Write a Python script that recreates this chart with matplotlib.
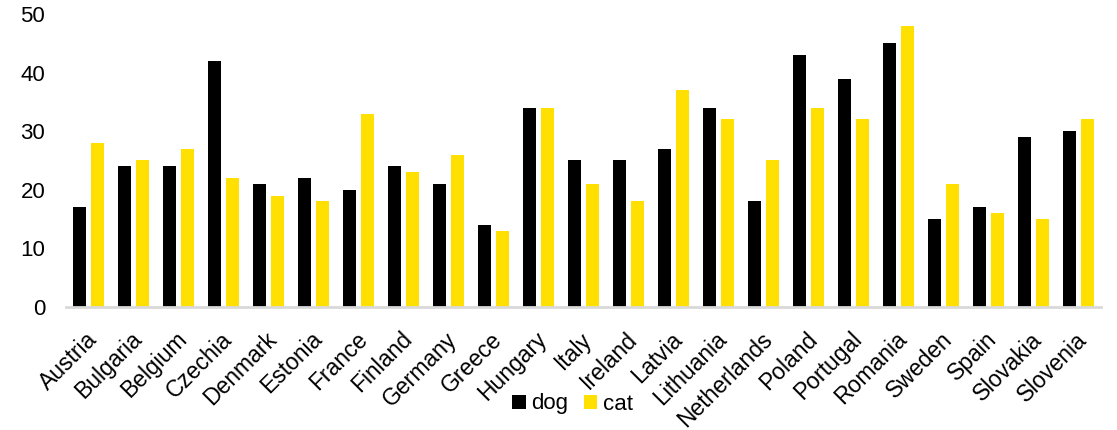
import matplotlib
matplotlib.use("Agg")
import matplotlib.pyplot as plt
from matplotlib.transforms import ScaledTranslation
import numpy as np

countries = ["Austria", "Bulgaria", "Belgium", "Czechia", "Denmark", "Estonia", "France",
             "Finland", "Germany", "Greece", "Hungary", "Italy", "Ireland", "Latvia",
             "Lithuania", "Netherlands", "Poland", "Portugal", "Romania", "Sweden",
             "Spain", "Slovakia", "Slovenia"]
dog = [17, 24, 24, 42, 21, 22, 20, 24, 21, 14, 34, 25, 25, 27, 34, 18, 43, 39, 45, 15, 17, 29, 30]
cat = [28, 25, 27, 22, 19, 18, 33, 23, 26, 13, 34, 21, 18, 37, 32, 25, 34, 32, 48, 21, 16, 15, 32]
yticks = [0, 10, 20, 30, 40, 50]

plt.rcParams['font.family'] = ['Liberation Sans', 'DejaVu Sans']

W, H = 1117, 430
fig = plt.figure(figsize=(W / 100, H / 100), dpi=100)
ax = fig.add_axes([66 / W, 123.3 / H, (1101 - 66) / W, (415.8 - 123.3) / H])

x = np.arange(len(countries))
w = 0.30
ax.bar(x - 0.195, dog, width=w, color='#000000', label='dog')
ax.bar(x + 0.195, cat, width=w, color='#FFE000', label='cat')

ax.set_xlim(-0.5, len(countries) - 0.5)
ax.set_ylim(0, 50)
ax.set_yticks(yticks)
ax.set_yticklabels([str(v) for v in yticks], fontsize=16)
ax.tick_params(axis='y', length=0, pad=15)
ax.set_xticks(x)
ax.set_xticklabels(countries, fontsize=16.5, rotation=45, ha='right', va='center',
                   rotation_mode='anchor')
ax.tick_params(axis='x', length=0, pad=21)
offset = ScaledTranslation(5 / 100, 0, fig.dpi_scale_trans)
for lab in ax.get_xticklabels():
    lab.set_transform(lab.get_transform() + offset)

for s in ['top', 'right', 'left']:
    ax.spines[s].set_visible(False)
ax.spines['bottom'].set_color('#D9D9D9')
ax.spines['bottom'].set_linewidth(2)

fig.legend(loc='center', bbox_to_anchor=(572.5 / W, 26 / H), ncol=2, frameon=False,
           fontsize=16, handlelength=0.6, handleheight=0.6, handletextpad=0.25,
           columnspacing=0.7, borderpad=0, borderaxespad=0)

fig.savefig('out.png', dpi=100)
